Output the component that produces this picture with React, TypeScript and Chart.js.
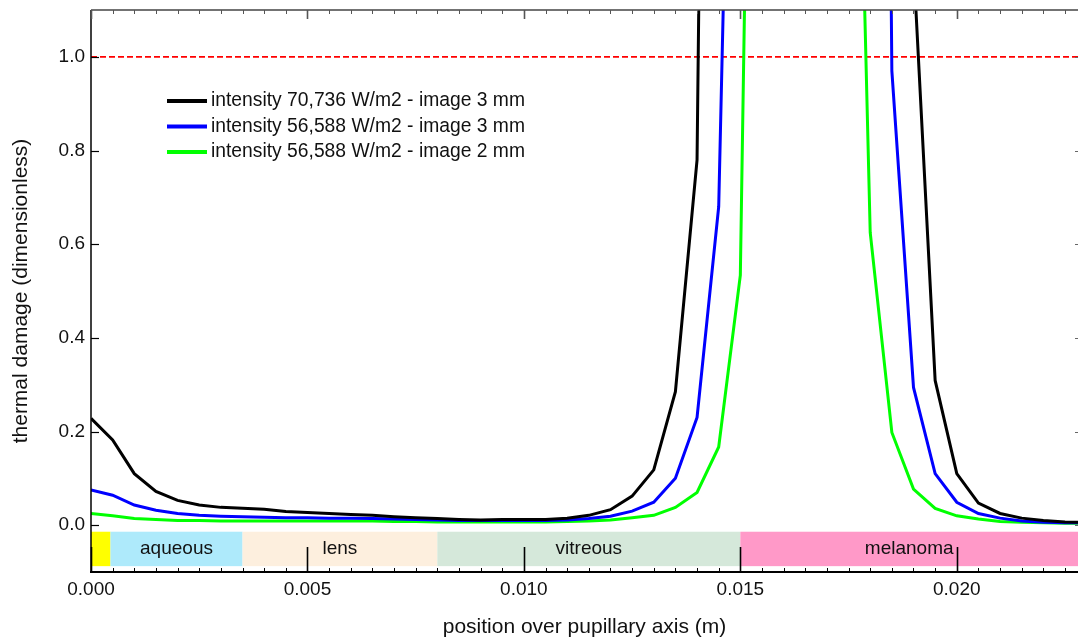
import { useEffect, useRef } from "react";
import { Chart, registerables } from "chart.js";

Chart.register(...registerables);

const FONT = '"Liberation Sans", Arial, Helvetica, sans-serif';

// Sample positions along the pupillary axis (m)
const positions = [
  0, 0.0005, 0.001, 0.0015, 0.002, 0.0025, 0.003, 0.0035, 0.004, 0.0045,
  0.005, 0.0055, 0.006, 0.0065, 0.007, 0.0075, 0.008, 0.0085, 0.009, 0.0095,
  0.01, 0.0105, 0.011, 0.0115, 0.012, 0.0125, 0.013, 0.0135, 0.014, 0.0145,
  0.015, 0.0155, 0.016, 0.0165, 0.017, 0.0175, 0.018, 0.0185, 0.019, 0.0195,
  0.02, 0.0205, 0.021, 0.0215, 0.022, 0.0225, 0.023,
];

// Thermal damage, 70,736 W/m2, 3 mm image
const damageHigh3mm = [
  0.228, 0.182, 0.11, 0.072, 0.053, 0.043, 0.038, 0.036, 0.034, 0.029,
  0.027, 0.025, 0.023, 0.021, 0.018, 0.016, 0.014, 0.012, 0.011, 0.012,
  0.012, 0.012, 0.015, 0.021, 0.033, 0.062, 0.118, 0.285, 0.78, 4.9,
  18, 40, 60, 60, 45, 25, 9, 4.5, 1.2, 0.309,
  0.11, 0.047, 0.025, 0.015, 0.01, 0.007, 0.006,
];

// Thermal damage, 56,588 W/m2, 3 mm image
const damageLow3mm = [
  0.075, 0.064, 0.043, 0.032, 0.025, 0.021, 0.019, 0.018, 0.017, 0.016,
  0.016, 0.015, 0.015, 0.014, 0.013, 0.012, 0.011, 0.01, 0.01, 0.01,
  0.01, 0.01, 0.011, 0.014, 0.019, 0.03, 0.049, 0.1, 0.23, 0.68,
  2.7, 12, 35, 40, 30, 15, 6, 0.97, 0.294, 0.11,
  0.049, 0.025, 0.015, 0.009, 0.006, 0.005, 0.005,
];

// Thermal damage, 56,588 W/m2, 2 mm image
const damageLow2mm = [
  0.025, 0.02, 0.014, 0.012, 0.01, 0.01, 0.009, 0.009, 0.009, 0.009,
  0.009, 0.009, 0.009, 0.009, 0.008, 0.008, 0.007, 0.007, 0.007, 0.007,
  0.007, 0.007, 0.008, 0.009, 0.011, 0.016, 0.021, 0.038, 0.07, 0.167,
  0.534, 3.5, 15, 25, 15, 2.5, 0.625, 0.198, 0.077, 0.036,
  0.02, 0.013, 0.008, 0.006, 0.005, 0.004, 0.004,
];

const seriesLabels = [
  "intensity 70,736 W/m2 - image 3 mm",
  "intensity 56,588 W/m2 - image 3 mm",
  "intensity 56,588 W/m2 - image 2 mm",
];
const seriesColors = ["#000000", "#0000ff", "#00ff00"];

const damageThreshold = 1.0;

// Axis tick values
const xTickValues = [0, 0.005, 0.01, 0.015, 0.02];
const yTickValues = [0, 0.2, 0.4, 0.6, 0.8, 1.0];

// Eye tissue layers along the axis
const tissueStarts = [0, 0.00045, 0.0035, 0.008, 0.015];
const tissueEnds = [0.00045, 0.0035, 0.008, 0.015, 0.0228];
const tissueNames = ["", "aqueous", "lens", "vitreous", "melanoma"];
const tissueColors = ["#ffff00", "#aeeafb", "#fdefde", "#d5e8da", "#ff99c8"];
const tissueBandTop = -0.014;
const tissueBandBottom = -0.0875;

const X_MIN = 0;
const X_MAX = 0.0228;
const Y_MIN = -0.1;
const Y_MAX = 1.1;
const X_MAJOR = 0.005;
const X_MINOR = 0.0005;

const tissuePlugin = {
  id: "tissueBands",
  beforeDatasetsDraw(chart: any) {
    const { ctx, scales } = chart;
    const x = scales.x;
    const y = scales.y;
    const top = y.getPixelForValue(tissueBandTop);
    const bottom = y.getPixelForValue(tissueBandBottom);
    ctx.save();
    tissueStarts.forEach((start, i) => {
      const l = x.getPixelForValue(start);
      const r = x.getPixelForValue(tissueEnds[i]);
      ctx.fillStyle = tissueColors[i];
      ctx.fillRect(l, top, r - l, bottom - top);
    });
    ctx.fillStyle = "#111111";
    ctx.font = `19px ${FONT}`;
    ctx.textAlign = "center";
    ctx.textBaseline = "middle";
    tissueStarts.forEach((start, i) => {
      if (!tissueNames[i]) return;
      const cx = (x.getPixelForValue(start) + x.getPixelForValue(tissueEnds[i])) / 2;
      ctx.fillText(tissueNames[i], cx, (top + bottom) / 2);
    });
    ctx.restore();
  },
};

const framePlugin = {
  id: "frameAndLegend",
  afterDatasetsDraw(chart: any) {
    const { ctx, chartArea, scales } = chart;
    const x = scales.x;
    const y = scales.y;
    const { left, right, top, bottom } = chartArea;
    ctx.save();

    // axis lines
    ctx.lineCap = "butt";
    ctx.strokeStyle = "#444444";
    ctx.lineWidth = 1.3;
    ctx.beginPath();
    ctx.moveTo(left, top);
    ctx.lineTo(right, top);
    ctx.stroke();

    ctx.strokeStyle = "#000000";
    ctx.lineWidth = 1.5;
    ctx.beginPath();
    ctx.moveTo(left, top);
    ctx.lineTo(left, bottom);
    ctx.stroke();

    ctx.lineWidth = 2;
    ctx.beginPath();
    ctx.moveTo(left - 1, bottom);
    ctx.lineTo(right, bottom);
    ctx.stroke();

    // x ticks (inside, top and bottom)
    const perMajor = Math.round(X_MAJOR / X_MINOR);
    const count = Math.floor((X_MAX - X_MIN) / X_MINOR + 1e-6);
    for (let i = 0; i <= count; i++) {
      const v = X_MIN + i * X_MINOR;
      const px = Math.round(x.getPixelForValue(v)) + 0.5;
      const major = i % perMajor === 0;
      ctx.lineWidth = major ? 1.6 : 1;
      ctx.strokeStyle = "#000000";
      ctx.beginPath();
      ctx.moveTo(px, bottom);
      ctx.lineTo(px, bottom - (major ? 25 : 4));
      ctx.stroke();
      ctx.strokeStyle = "#555555";
      ctx.beginPath();
      ctx.moveTo(px, top);
      ctx.lineTo(px, top + (major ? 9 : 4));
      ctx.stroke();
    }

    // y ticks (inside, left; short marks on right)
    yTickValues.forEach((v) => {
      const py = Math.round(y.getPixelForValue(v)) + 0.5;
      ctx.strokeStyle = "#000000";
      ctx.lineWidth = 1.2;
      ctx.beginPath();
      ctx.moveTo(left, py);
      ctx.lineTo(left + 8, py);
      ctx.stroke();
      ctx.strokeStyle = "#666666";
      ctx.lineWidth = 1;
      ctx.beginPath();
      ctx.moveTo(right - 3, py);
      ctx.lineTo(right, py);
      ctx.stroke();
    });

    // legend
    const rows = [101, 126.5, 152];
    ctx.font = `19.3px ${FONT}`;
    ctx.textAlign = "left";
    ctx.textBaseline = "middle";
    chart.data.datasets.slice(0, seriesLabels.length).forEach((ds: any, i: number) => {
      ctx.strokeStyle = ds.borderColor;
      ctx.lineWidth = 4;
      ctx.beginPath();
      ctx.moveTo(167, rows[i]);
      ctx.lineTo(207, rows[i]);
      ctx.stroke();
      ctx.fillStyle = "#111111";
      ctx.fillText(ds.label, 211, rows[i]);
    });

    ctx.restore();
  },
};

export default function App() {
  const canvasRef = useRef<HTMLCanvasElement | null>(null);

  useEffect(() => {
    if (!canvasRef.current) return;
    Chart.defaults.font.family = FONT;

    const series = [damageHigh3mm, damageLow3mm, damageLow2mm];
    const curveSets = series.map((vals, i) => ({
      label: seriesLabels[i],
      data: positions.map((p, j) => ({ x: p, y: vals[j] })),
      borderColor: seriesColors[i],
      backgroundColor: seriesColors[i],
      borderWidth: 3,
      pointRadius: 0,
      tension: 0,
      fill: false,
      clip: 0,
    }));

    const chart = new Chart(canvasRef.current, {
      type: "line",
      data: {
        datasets: [
          ...curveSets,
          {
            label: "threshold",
            data: [
              { x: X_MIN, y: damageThreshold },
              { x: X_MAX, y: damageThreshold },
            ],
            borderColor: "#ff0000",
            borderWidth: 1.6,
            borderDash: [6, 3],
            pointRadius: 0,
            fill: false,
            clip: 0,
          },
        ],
      },
      options: {
        responsive: false,
        animation: false,
        events: [],
        layout: { padding: { top: 10, left: 0, right: 0, bottom: 0 } },
        plugins: {
          legend: { display: false },
          tooltip: { enabled: false },
        },
        scales: {
          x: {
            type: "linear",
            min: X_MIN,
            max: X_MAX,
            grid: { display: false, drawTicks: false },
            border: { display: false },
            afterBuildTicks: (scale: any) => {
              scale.ticks = xTickValues.map((v) => ({ value: v }));
            },
            ticks: {
              autoSkip: false,
              maxRotation: 0,
              padding: 8,
              color: "#111111",
              font: { size: 19, lineHeight: 1 },
              callback: (v: any) => Number(v).toFixed(3),
            },
            title: {
              display: true,
              text: "position over pupillary axis (m)",
              color: "#111111",
              font: { size: 21 },
              padding: { top: 0, bottom: 0 },
            },
            afterFit: (scale: any) => {
              scale.height = 68;
            },
          },
          y: {
            type: "linear",
            min: Y_MIN,
            max: Y_MAX,
            grid: { display: false, drawTicks: false },
            border: { display: false },
            afterBuildTicks: (scale: any) => {
              scale.ticks = yTickValues.map((v) => ({ value: v }));
            },
            ticks: {
              padding: 6,
              color: "#111111",
              font: { size: 19, lineHeight: 1 },
              callback: (v: any) => Number(v).toFixed(1),
            },
            title: {
              display: true,
              text: "thermal damage (dimensionless)",
              color: "#111111",
              font: { size: 21 },
              padding: { top: 9, bottom: 0 },
            },
            afterFit: (scale: any) => {
              scale.width = 91;
              scale.paddingTop = 0;
              scale.paddingBottom = 0;
            },
          },
        },
      },
      plugins: [tissuePlugin, framePlugin],
    });

    return () => chart.destroy();
  }, []);

  return (
    <div style={{ position: "fixed", left: 0, top: 0, width: 1078, height: 640, background: "#ffffff" }}>
      <canvas ref={canvasRef} width={1078} height={640} style={{ display: "block" }} />
    </div>
  );
}
